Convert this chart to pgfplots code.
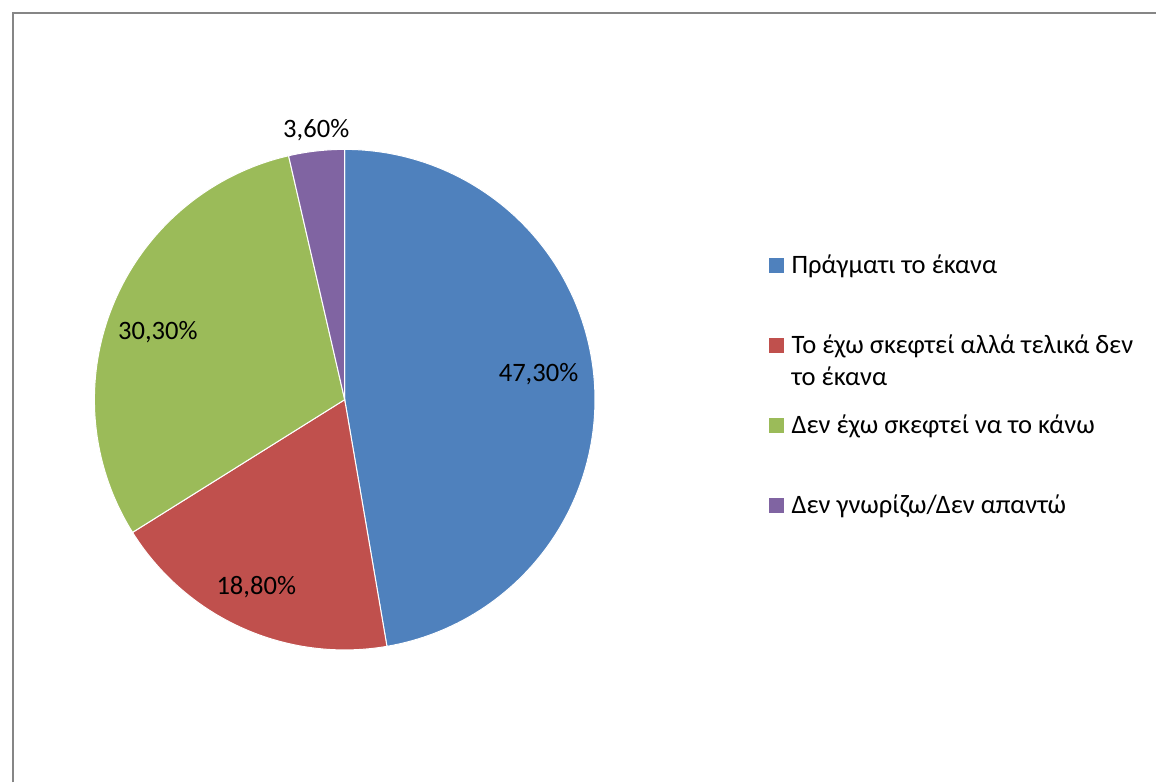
\documentclass[border=0pt]{standalone}
\usepackage{pgfplots}
\pgfplotsset{compat=1.18}
\usepackage{pgfplotstable}
\usepackage{fontspec}
\setmainfont{Carlito}
\definecolor{cblue}{HTML}{4F81BD}
\definecolor{cred}{HTML}{C0504D}
\definecolor{cgreen}{HTML}{9BBB59}
\definecolor{cpurple}{HTML}{8064A2}
\definecolor{cframe}{HTML}{868686}

\pgfplotstableread{
idx value
0 47.3
1 18.8
2 30.3
3 3.6
}\piedata

\pgfplotstablegetelem{0}{value}\of\piedata \let\vA\pgfplotsretval
\pgfplotstablegetelem{1}{value}\of\piedata \let\vB\pgfplotsretval
\pgfplotstablegetelem{2}{value}\of\piedata \let\vC\pgfplotsretval
\pgfplotstablegetelem{3}{value}\of\piedata \let\vD\pgfplotsretval
\pgfmathsetmacro\aA{90}
\pgfmathsetmacro\aB{\aA-3.6*\vA}
\pgfmathsetmacro\aC{\aB-3.6*\vB}
\pgfmathsetmacro\aD{\aC-3.6*\vC}
\pgfmathsetmacro\aE{\aD-3.6*\vD}
\def\cx{345}
\def\cy{383}
\def\pr{250.5}
\newcommand\ls{\rule[-20pt]{0pt}{40pt}}

\begin{document}
\fontsize{13.3}{16}\selectfont
\begin{tikzpicture}
\begin{axis}[
  scale only axis,
  width=578.5pt, height=391.5pt,
  xmin=0, xmax=1157, ymin=0, ymax=783,
  hide axis, clip=false,
  legend style={at={(axis cs:769.3,549.5)}, anchor=north west, draw=none, fill=none,
    inner sep=0pt, outer sep=0pt, row sep=0pt, column sep=4pt,
    nodes={inner sep=0pt, outer sep=0pt, text depth={}, text height={}}},
  legend cell align=left,
  legend image code/.code={\fill[#1,draw=none] (0pt,0pt) rectangle (7.5pt,7.5pt);},
]
\path (axis cs:0,0) rectangle (axis cs:1157,783);
\draw[cframe, line width=1pt] (axis cs:13,0) -- (axis cs:13,770) -- (axis cs:1157,770);

\addplot[fill=cblue, draw=white, line width=0.5pt, domain=\aB:\aA, samples=120]
  ({\cx+\pr*cos(x)},{\cy+\pr*sin(x)}) -- (axis cs:\cx,\cy) -- cycle;
\addlegendentry{\ls Πράγματι το έκανα}
\addplot[fill=cred, draw=white, line width=0.5pt, domain=\aC:\aB, samples=60]
  ({\cx+\pr*cos(x)},{\cy+\pr*sin(x)}) -- (axis cs:\cx,\cy) -- cycle;
\addlegendentry{\ls\smash{\begin{tabular}[t]{@{}l@{}}Το έχω σκεφτεί αλλά τελικά δεν\\το έκανα\end{tabular}}}
\addplot[fill=cgreen, draw=white, line width=0.5pt, domain=\aD:\aC, samples=80]
  ({\cx+\pr*cos(x)},{\cy+\pr*sin(x)}) -- (axis cs:\cx,\cy) -- cycle;
\addlegendentry{\ls Δεν έχω σκεφτεί να το κάνω}
\addplot[fill=cpurple, draw=white, line width=0.5pt, domain=\aE:\aD, samples=20]
  ({\cx+\pr*cos(x)},{\cy+\pr*sin(x)}) -- (axis cs:\cx,\cy) -- cycle;
\addlegendentry{\ls Δεν γνωρίζω/Δεν απαντώ}

\node[anchor=base] at (axis cs:539,401) {47,30\%};
\node[anchor=base] at (axis cs:256.5,188) {18,80\%};
\node[anchor=base] at (axis cs:158,443) {30,30\%};
\node[anchor=base] at (axis cs:316.5,645) {3,60\%};
\end{axis}
\end{tikzpicture}
\end{document}
